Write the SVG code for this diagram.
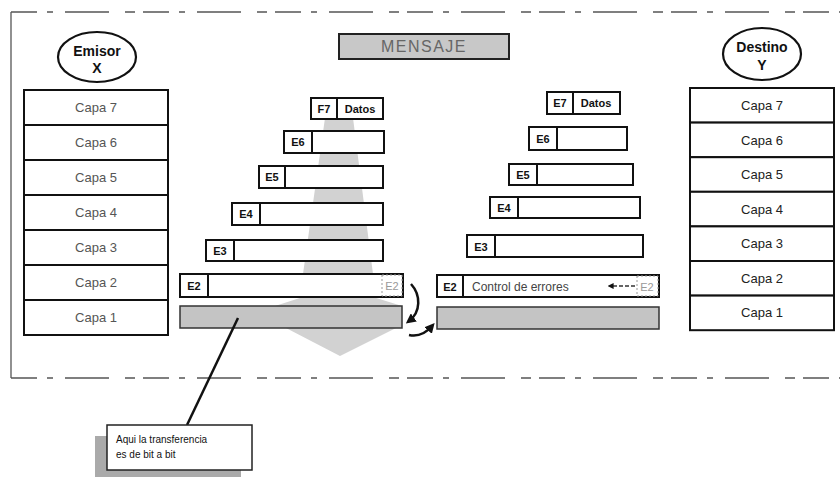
<svg xmlns="http://www.w3.org/2000/svg" width="840" height="477" viewBox="0 0 840 477">
<style>
.frame{fill:none;stroke:#555;stroke-width:1.3}
.dash{stroke-dasharray:26 10 6 12 44 16 10 8}
.layer{fill:#fff;stroke:#111;stroke-width:2}
.hdr{fill:#fff;stroke:#111;stroke-width:2}
.div{stroke:#111;stroke-width:2}
.bar{fill:#c4c4c4;stroke:#333;stroke-width:1.5}
.flow{fill:#d2d2d2;stroke:none}
.lbl{font-family:"Liberation Sans",Arial,sans-serif;font-size:13px;fill:#222;text-anchor:middle}
.lblL{fill:#555}
.e{font-family:"Liberation Sans",Arial,sans-serif;font-weight:bold;font-size:11px;fill:#111;text-anchor:middle}
.faint{fill:#999;font-weight:normal}
.ell{fill:#fff;stroke:#111;stroke-width:2.2}
.title{font-family:"Liberation Sans",Arial,sans-serif;font-size:14px;font-weight:bold;fill:#111;text-anchor:middle}
.con{fill:none;stroke:#111;stroke-width:2.5}
.note{font-family:"Liberation Sans",Arial,sans-serif;font-size:10px;fill:#111}
</style>
<defs>
<marker id="ah" viewBox="0 0 10 10" refX="6" refY="5" markerWidth="4" markerHeight="4" orient="auto">
<path d="M0,0 L10,5 L0,10 z" fill="#111"/>
</marker>
</defs>

<g id="frame">
<path class="frame dash" d="M11,12 H840"/>
<path class="frame" d="M11,12 V378"/>
<path class="frame dash" d="M11,378 H840"/>
</g>

<g id="emisor">
<ellipse class="ell" cx="97" cy="57" rx="39" ry="25"/>
<text class="title" x="97" y="56">Emisor</text>
<text class="title" x="97" y="73">X</text>
</g>

<g id="destino">
<ellipse class="ell" cx="762" cy="54" rx="39" ry="26"/>
<text class="title" x="762" y="52">Destino</text>
<text class="title" x="762" y="70">Y</text>
</g>

<g id="mensaje">
<rect x="339" y="34" width="170" height="25" fill="#c8c8c8" stroke="#222" stroke-width="2"/>
<text x="424" y="52" font-family="Liberation Sans, Arial, sans-serif" font-size="16" letter-spacing="1.5" fill="#666" text-anchor="middle">MENSAJE</text>
</g>

<g id="emisor-capas">
<rect class="layer" x="24" y="90" width="144" height="35"/>
<text class="lbl lblL" x="96" y="112">Capa 7</text>
<rect class="layer" x="24" y="125" width="144" height="35"/>
<text class="lbl lblL" x="96" y="147">Capa 6</text>
<rect class="layer" x="24" y="160" width="144" height="35"/>
<text class="lbl lblL" x="96" y="182">Capa 5</text>
<rect class="layer" x="24" y="195" width="144" height="35"/>
<text class="lbl lblL" x="96" y="217">Capa 4</text>
<rect class="layer" x="24" y="230" width="144" height="35"/>
<text class="lbl lblL" x="96" y="252">Capa 3</text>
<rect class="layer" x="24" y="265" width="144" height="35"/>
<text class="lbl lblL" x="96" y="287">Capa 2</text>
<rect class="layer" x="24" y="300" width="144" height="35"/>
<text class="lbl lblL" x="96" y="322">Capa 1</text>
</g>

<g id="destino-capas">
<rect class="layer" x="690" y="88" width="144" height="34.6"/>
<text class="lbl" x="762" y="110">Capa 7</text>
<rect class="layer" x="690" y="122.6" width="144" height="34.6"/>
<text class="lbl" x="762" y="145">Capa 6</text>
<rect class="layer" x="690" y="157.2" width="144" height="34.6"/>
<text class="lbl" x="762" y="179">Capa 5</text>
<rect class="layer" x="690" y="191.8" width="144" height="34.6"/>
<text class="lbl" x="762" y="214">Capa 4</text>
<rect class="layer" x="690" y="226.4" width="144" height="34.6"/>
<text class="lbl" x="762" y="248">Capa 3</text>
<rect class="layer" x="690" y="261" width="144" height="34.6"/>
<text class="lbl" x="762" y="283">Capa 2</text>
<rect class="layer" x="690" y="295.6" width="144" height="34.6"/>
<text class="lbl" x="762" y="317">Capa 1</text>
</g>

<g id="flujo">
<polygon class="flow" points="325,118 353,118 373,274 373,297 402,306 396,328 340,356 286,328 275,306 303,297 303,274"/>
</g>

<g id="tx-e7">
<rect class="hdr" x="311" y="98" width="72" height="21"/>
<line class="div" x1="337" y1="98" x2="337" y2="119"/>
<text class="e" x="324" y="113">F7</text>
<text class="e" x="360" y="113">Datos</text>
</g>
<g id="tx-e6">
<rect class="hdr" x="284" y="131" width="100" height="22"/>
<line class="div" x1="312" y1="131" x2="312" y2="153"/>
<text class="e" x="298" y="146">E6</text>
</g>
<g id="tx-e5">
<rect class="hdr" x="259" y="166" width="124" height="22"/>
<line class="div" x1="285" y1="166" x2="285" y2="188"/>
<text class="e" x="272" y="181">E5</text>
</g>
<g id="tx-e4">
<rect class="hdr" x="232" y="203" width="151" height="22"/>
<line class="div" x1="260" y1="203" x2="260" y2="225"/>
<text class="e" x="246" y="218">E4</text>
</g>
<g id="tx-e3">
<rect class="hdr" x="206" y="240" width="177" height="21"/>
<line class="div" x1="234" y1="240" x2="234" y2="261"/>
<text class="e" x="220" y="255">E3</text>
</g>
<g id="tx-e2">
<rect class="hdr" x="180" y="274" width="223" height="23"/>
<line class="div" x1="208" y1="274" x2="208" y2="297"/>
<rect x="382" y="275" width="20" height="21" fill="#fff" stroke="#999" stroke-width="1" stroke-dasharray="2 2"/>
<text class="e" x="194" y="290">E2</text>
<text class="e faint" x="392" y="290">E2</text>
</g>
<g id="tx-e1">
<rect class="bar" x="180" y="306" width="222" height="22"/>
</g>

<g id="rx-e7">
<rect class="hdr" x="547" y="92" width="73" height="22"/>
<line class="div" x1="573" y1="92" x2="573" y2="114"/>
<text class="e" x="560" y="107">E7</text>
<text class="e" x="596" y="107">Datos</text>
</g>
<g id="rx-e6">
<rect class="hdr" x="529" y="127" width="98" height="23"/>
<line class="div" x1="557" y1="127" x2="557" y2="150"/>
<text class="e" x="543" y="143">E6</text>
</g>
<g id="rx-e5">
<rect class="hdr" x="509" y="164" width="124" height="21"/>
<line class="div" x1="537" y1="164" x2="537" y2="185"/>
<text class="e" x="523" y="179">E5</text>
</g>
<g id="rx-e4">
<rect class="hdr" x="490" y="197" width="150" height="21"/>
<line class="div" x1="518" y1="197" x2="518" y2="218"/>
<text class="e" x="504" y="212">E4</text>
</g>
<g id="rx-e3">
<rect class="hdr" x="467" y="235" width="176" height="22"/>
<line class="div" x1="495" y1="235" x2="495" y2="257"/>
<text class="e" x="481" y="251">E3</text>
</g>
<g id="rx-e2">
<rect class="hdr" x="437" y="275" width="222" height="22"/>
<line class="div" x1="463" y1="275" x2="463" y2="297"/>
<rect x="637" y="276" width="21" height="20" fill="#fff" stroke="#999" stroke-width="1" stroke-dasharray="2 2"/>
<text class="e" x="450" y="291">E2</text>
<text x="472" y="291" font-family="Liberation Sans, Arial, sans-serif" font-size="12" fill="#444">Control de errores</text>
<text class="e faint" x="647" y="291">E2</text>
</g>
<g id="rx-e1">
<rect class="bar" x="437" y="307" width="222" height="22"/>
</g>

<g id="connectors">
<path class="con" d="M411,284 C421,295 421,312 409,321" marker-end="url(#ah)"/>
<path class="con" d="M409,335 C418,337 426,333 432,326" marker-end="url(#ah)"/>
<path d="M635,286 H610" fill="none" stroke="#333" stroke-width="1.5" stroke-dasharray="4 2" marker-end="url(#ah)"/>
<path d="M238,318 L187,425" fill="none" stroke="#111" stroke-width="2.5"/>
</g>

<g id="nota">
<rect x="95" y="436" width="146" height="41" fill="#aaa"/>
<rect x="107" y="425" width="145" height="45" fill="#fff" stroke="#222" stroke-width="1.5"/>
<text class="note" x="116" y="443">Aqui la transferencia</text>
<text class="note" x="116" y="458">es de bit a bit</text>
</g>
</svg>
